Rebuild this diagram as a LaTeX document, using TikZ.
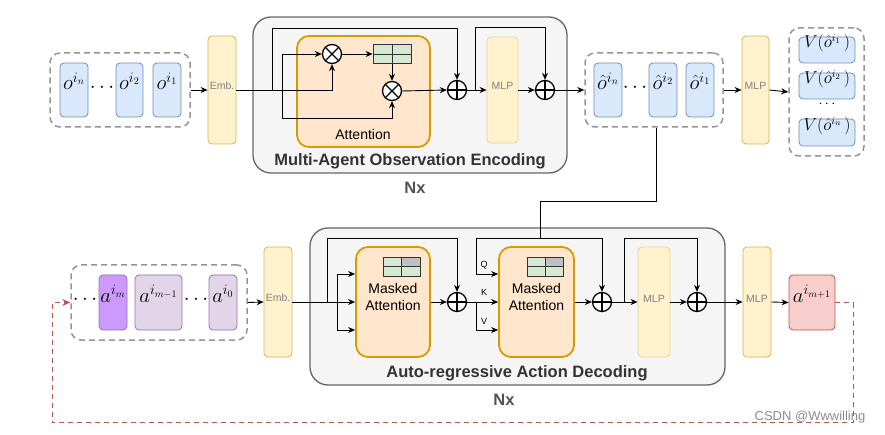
\documentclass[tikz,border=0pt]{standalone}
\usepackage[no-math]{fontspec}
\setmainfont{Liberation Sans}
\usetikzlibrary{arrows.meta,fit,calc}
\definecolor{bluef}{HTML}{DAE8FC}\definecolor{blued}{HTML}{6C8EBF}
\definecolor{yelf}{HTML}{FFF2CC}\definecolor{yeld}{HTML}{D6B656}
\definecolor{orf}{HTML}{FFE6CC}\definecolor{ord}{HTML}{D79B00}
\definecolor{grnf}{HTML}{D5E8D4}\definecolor{cellg}{HTML}{C0C0C0}
\definecolor{purs}{HTML}{CC99FF}\definecolor{purf}{HTML}{E1D5E7}\definecolor{purd}{HTML}{9673A6}
\definecolor{redf}{HTML}{F8CECC}\definecolor{redd}{HTML}{B85450}
\definecolor{contf}{HTML}{F5F5F5}\definecolor{contd}{HTML}{666666}
\definecolor{grpd}{HTML}{959595}\definecolor{txtg}{HTML}{808080}
\definecolor{ttl}{HTML}{333333}
\newcommand{\mbig}{\fontsize{20}{24}\selectfont}
\newcommand{\mmid}{\fontsize{16}{19}\selectfont}
\begin{document}
\begin{tikzpicture}[x=1pt,y=-1pt,
  every node/.style={inner sep=0pt},
  bbox/.style={draw=blued, fill=bluef, line width=0.8pt, rounded corners=4pt, font=\mbig},
  ybox/.style={draw=yeld, fill=yelf, line width=0.8pt, rounded corners=4pt, font=\fontsize{10.5}{12}\selectfont, text=txtg},
  obox/.style={draw=ord, fill=orf, line width=1.8pt, rounded corners=12pt},
  grp/.style={draw=grpd, line width=1.5pt, dash pattern=on 6pt off 4pt, rounded corners=10pt},
  cont/.style={draw=contd, fill=contf, line width=1.3pt, rounded corners=18pt},
  mat/.style={draw=ttl, fill=grnf, line width=0.8pt},
  ln/.style={draw=black, line width=0.9pt},
  arr/.style={draw=black, line width=0.9pt, -{Stealth[length=7pt,width=6pt]}},
  opc/.style={circle, draw=black, fill=white, line width=1.3pt, minimum size=19pt},
  otim/.style={opc, path picture={\draw[line width=1.3pt] (path picture bounding box.north west) -- (path picture bounding box.south east) (path picture bounding box.south west) -- (path picture bounding box.north east);}},
  oplu/.style={opc, path picture={\draw[line width=1.3pt] (path picture bounding box.north) -- (path picture bounding box.south) (path picture bounding box.west) -- (path picture bounding box.east);}},
  ttlf/.style={font=\fontsize{16.5}{19}\selectfont\bfseries, text=ttl},
  lab/.style={font=\fontsize{9}{10}\selectfont},
]
\useasboundingbox (0,0) rectangle (885,435);

% ---------------- containers
\node[cont, fit={(253,17)(567,173)}] (enc) {};
\node[cont, fit={(310,228)(725,385)}] (dec) {};

% ---------------- top row
\node[grp, fit={(50,53)(190,127)}] (gO) {};
\node[bbox, fit={(60,63)(88,117)}] (oN) {$o^{i_n}$};
\node[bbox, fit={(116,63)(143,117)}] (o2) {$o^{i_2}$};
\node[bbox, fit={(153,63)(181,117)}] (o1) {$o^{i_1}$};
\node[font=\mbig] (dO) at (102,88) {$\cdots$};
\node[ybox, fit={(208,36)(236,144)}] (emb1) {Emb.};

\node[obox, fit={(297,36)(430,147)}] (att) {};
\node[font=\fontsize{14}{16}\selectfont] (attl) at (363,134) {Attention};
\node[otim] (ot1) at (332,54) {};
\node[mat, fit={(373,44.5)(411,63.5)}, path picture={\draw[draw=ttl, line width=0.8pt] (path picture bounding box.north) -- (path picture bounding box.south) (path picture bounding box.west) -- (path picture bounding box.east);}] (m1) {};
\node[otim] (ot2) at (392,91) {};
\node[oplu] (op1) at (457,90) {};
\node[ybox, fit={(487,37)(518,143)}, draw=yeld!60] (mlp1) {MLP};
\node[oplu] (op2) at (545,90) {};
\node[ttlf] (encT) at (410,161) {Multi-Agent Observation Encoding};
\node[ttlf, text=ttl!85] (nx1) at (415,188) {Nx};

\node[grp, fit={(585,53)(723,127)}] (gOh) {};
\node[bbox, fit={(594,63)(622,117)}] (ohN) {$\hat{o}^{i_n}$};
\node[bbox, fit={(649,63)(677,117)}] (oh2) {$\hat{o}^{i_2}$};
\node[bbox, fit={(686,63)(714,117)}] (oh1) {$\hat{o}^{i_1}$};
\node[font=\mbig] (dOh) at (635,88) {$\cdots$};
\node[ybox, fit={(742,36)(769,144)}] (mlp2) {MLP};

\node[grp, fit={(789,28)(864,156)}] (gV) {};
\node[bbox, font=\mmid, fit={(799,37)(855,63)}] (v1) {$V(\hat{o}^{i_1}\,)$};
\node[bbox, font=\mmid, fit={(799,73)(855,99)}] (v2) {$V(\hat{o}^{i_2}\,)$};
\node[font=\fontsize{14}{16}\selectfont] (dV) at (827,104) {$\cdots$};
\node[bbox, font=\mmid, fit={(799,119)(855,146)}] (v3) {$V(\hat{o}^{i_n}\,)$};

% top connectors
\draw[arr] (gO.east) -- (emb1.west);
\coordinate (b1) at (272,90);
\coordinate (b2) at (282,90);
\coordinate (b3) at (475,90);
\draw[arr] (emb1.east) -| (ot1.south);
\draw[arr] (b1) -- ++(0,-62) -| (op1.north);
\draw[arr] (b2) |- (ot1.west);
\draw[arr] (b2) -- ++(0,28) -| (ot2.south);
\draw[arr] (ot1.east) -- (m1.west);
\draw[arr] (m1.south) -- (ot2.north);
\draw[arr] (ot2.east) -- (op1.west);
\draw[arr] (op1.east) -- (mlp1.west);
\draw[arr] (b3) -- ++(0,-63) -| (op2.north);
\draw[arr] (mlp1.east) -- (op2.west);
\draw[arr] (op2.east) -- (gOh.west);
\draw[arr] (gOh.east) -- (mlp2.west);
\draw[arr] (mlp2.east) -- (gV.west);

% ---------------- bottom row
\node[grp, fit={(71,265)(247,340)}] (gA) {};
\node[bbox, draw=purd, fill=purs, fit={(99,275)(127,330)}] (aM) {$a^{i_m}$};
\node[bbox, draw=purd, fill=purf, fit={(135,275)(182,330)}] (aM1) {$a^{i_{m-1}}$};
\node[bbox, draw=purd, fill=purf, fit={(209,275)(237,330)}] (a0) {$a^{i_0}$};
\node[font=\mbig] (dA1) at (85,300) {$\cdots$};
\node[font=\mbig] (dA2) at (196,300) {$\cdots$};
\node[ybox, fit={(264,247)(292,357)}] (emb2) {Emb.};

\node[obox, fit={(356,247)(430,357)}, align=center, font=\fontsize{14}{17}\selectfont] (ma1) {Masked\\Attention};
\node[mat, fit={(383,257)(420,276)}, path picture={\fill[cellg] (path picture bounding box.center) rectangle (path picture bounding box.north east); \draw[draw=ttl, line width=0.8pt] (path picture bounding box.north) -- (path picture bounding box.south) (path picture bounding box.west) -- (path picture bounding box.east);}] (mA) {};
\node[oplu] (opA) at (457,302) {};
\node[obox, fit={(499,247)(574,357)}, align=center, font=\fontsize{14}{17}\selectfont] (ma2) {Masked\\Attention};
\node[mat, fit={(527,257)(563,276)}, path picture={\fill[cellg] (path picture bounding box.center) rectangle (path picture bounding box.north east); \draw[draw=ttl, line width=0.8pt] (path picture bounding box.north) -- (path picture bounding box.south) (path picture bounding box.west) -- (path picture bounding box.east);}] (mB) {};
\node[oplu] (opB) at (602,302) {};
\node[ybox, fit={(638,247)(670,357)}, draw=yeld!60] (mlp3) {MLP};
\node[oplu] (opC) at (697,302) {};
\node[ybox, fit={(743,247)(771,357)}] (mlp4) {MLP};
\node[bbox, draw=redd, fill=redf, fit={(789,275)(835,330)}] (aN) {$a^{i_{m+1}}$};
\node[ttlf] (decT) at (517,373) {Auto-regressive Action Decoding};
\node[ttlf, text=ttl!85] (nx2) at (504,400) {Nx};

\node[lab] (lQ) at (484,265) {Q};
\node[lab] (lK) at (484,292) {K};
\node[lab] (lV) at (484,321) {V};

% bottom connectors
\draw[arr] (gA.east) -- (emb2.west);
\draw[arr] (emb2.east) -- (ma1.west);
\coordinate (c1) at (327,302);
\coordinate (c2) at (337,302);
\coordinate (c3) at (476,302);
\coordinate (c4) at (476,238);
\coordinate (c5) at (602,238);
\coordinate (c6) at (540,238);
\coordinate (c7) at (624,302);
\draw[arr] (c1) -- ++(0,-64) -| (opA.north);
\draw[arr] (c2) |- ($(ma1.west)+(0,-28)$);
\draw[arr] (c2) |- ($(ma1.west)+(0,28)$);
\draw[arr] (ma1.east) -- (opA.west);
\draw[arr] (opA.east) -- (ma2.west);
\draw[arr] (c3) |- ($(ma2.west)+(0,28)$);
\draw[ln] (c4) -- (c5);
\draw[arr] (c4) |- ($(ma2.west)+(0,-28)$);
\draw[arr] (c5) -- (opB.north);
\draw[ln] ($(gOh.south)+(2,0)$) -- ++(0,74) -| (c6);
\draw[arr] (ma2.east) -- (opB.west);
\draw[arr] (opB.east) -- (mlp3.west);
\draw[arr] (c7) -- ++(0,-64) -| (opC.north);
\draw[arr] (mlp3.east) -- (opC.west);
\draw[arr] (opC.east) -- (mlp4.west);
\draw[arr] (mlp4.east) -- (aN.west);
\draw[draw=redd, line width=1.3pt, dash pattern=on 5pt off 4pt, -{Stealth[length=8pt,width=7pt]}]
  (aN.east) -- ++(18,0) -- ++(0,120) -| ($(gA.west)+(-18,0)$) -- (gA.west);

\node[font=\fontsize{13}{15}\selectfont, text=black!45] (wm) at (810,417) {CSDN @Wwwilling};
\end{tikzpicture}
\end{document}
